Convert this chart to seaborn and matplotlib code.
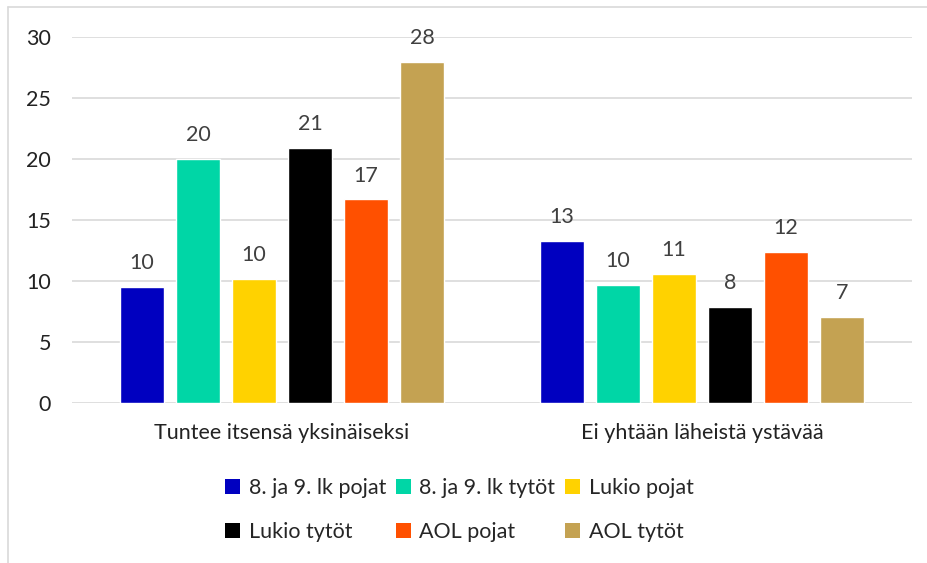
import pandas as pd
import matplotlib.pyplot as plt
import seaborn as sns
from matplotlib.patches import Patch
from matplotlib.lines import Line2D

categories = ["Tuntee itsensä yksinäiseksi", "Ei yhtään läheistä ystävää"]
groups = ["8. ja 9. lk pojat", "8. ja 9. lk tytöt", "Lukio pojat",
          "Lukio tytöt", "AOL pojat", "AOL tytöt"]
lonely = [9.5, 20.0, 10.2, 20.9, 16.7, 28.0]
no_friend = [13.3, 9.7, 10.6, 7.9, 12.4, 7.05]
colors = ["#0000C0", "#00D6A6", "#FFD200", "#000000", "#FF5000", "#C4A252"]

rows = []
for g, a, b in zip(groups, lonely, no_friend):
    rows.append({"cat": categories[0], "group": g, "value": a})
    rows.append({"cat": categories[1], "group": g, "value": b})
df = pd.DataFrame(rows)

sns.set_style("white")
plt.rcParams["font.family"] = ["Lato", "DejaVu Sans"]

fig = plt.figure(figsize=(9.28, 5.63), dpi=100)
ax = fig.add_axes([0.0776, 0.284, 0.905, 0.65])

sns.barplot(data=df, x="cat", y="value", hue="group", order=categories,
            hue_order=groups, palette=colors, width=0.8, gap=0.21,
            saturation=1, ax=ax, legend=False, errorbar=None)

for c in ax.containers:
    ax.bar_label(c, fmt="%.0f", padding=10, fontsize=15.5, color="#404040")

ax.set_ylim(0, 30)
ax.set_yticks(range(0, 31, 5))
ax.grid(axis="y", color="#d9d9d9", linewidth=1.2)
ax.set_axisbelow(True)
for s in ax.spines.values():
    s.set_visible(False)
ax.tick_params(axis="both", length=0, labelsize=15.5, colors="#222222")
ax.tick_params(axis="y", pad=15)
ax.tick_params(axis="x", pad=14)
ax.set_xlabel("")
ax.set_ylabel("")

# legend fills row by row in the reference
order = [0, 3, 1, 4, 2, 5]
handles = [Patch(facecolor=colors[i], edgecolor="none") for i in order]
labels = [groups[i] for i in order]
fig.legend(handles, labels, loc="center", bbox_to_anchor=(0.495, 0.094),
           ncol=3, frameon=False, fontsize=15.5, handlelength=0.7,
           handleheight=0.7, handletextpad=0.4, columnspacing=0.45,
           labelspacing=1.15)

# chart area border (left and top)
fig.add_artist(Line2D([0.009, 0.009], [0, 0.988], color="#d9d9d9", lw=1.2))
fig.add_artist(Line2D([0.009, 1.0], [0.988, 0.988], color="#d9d9d9", lw=1.2))

fig.savefig("out.png", dpi=100)
